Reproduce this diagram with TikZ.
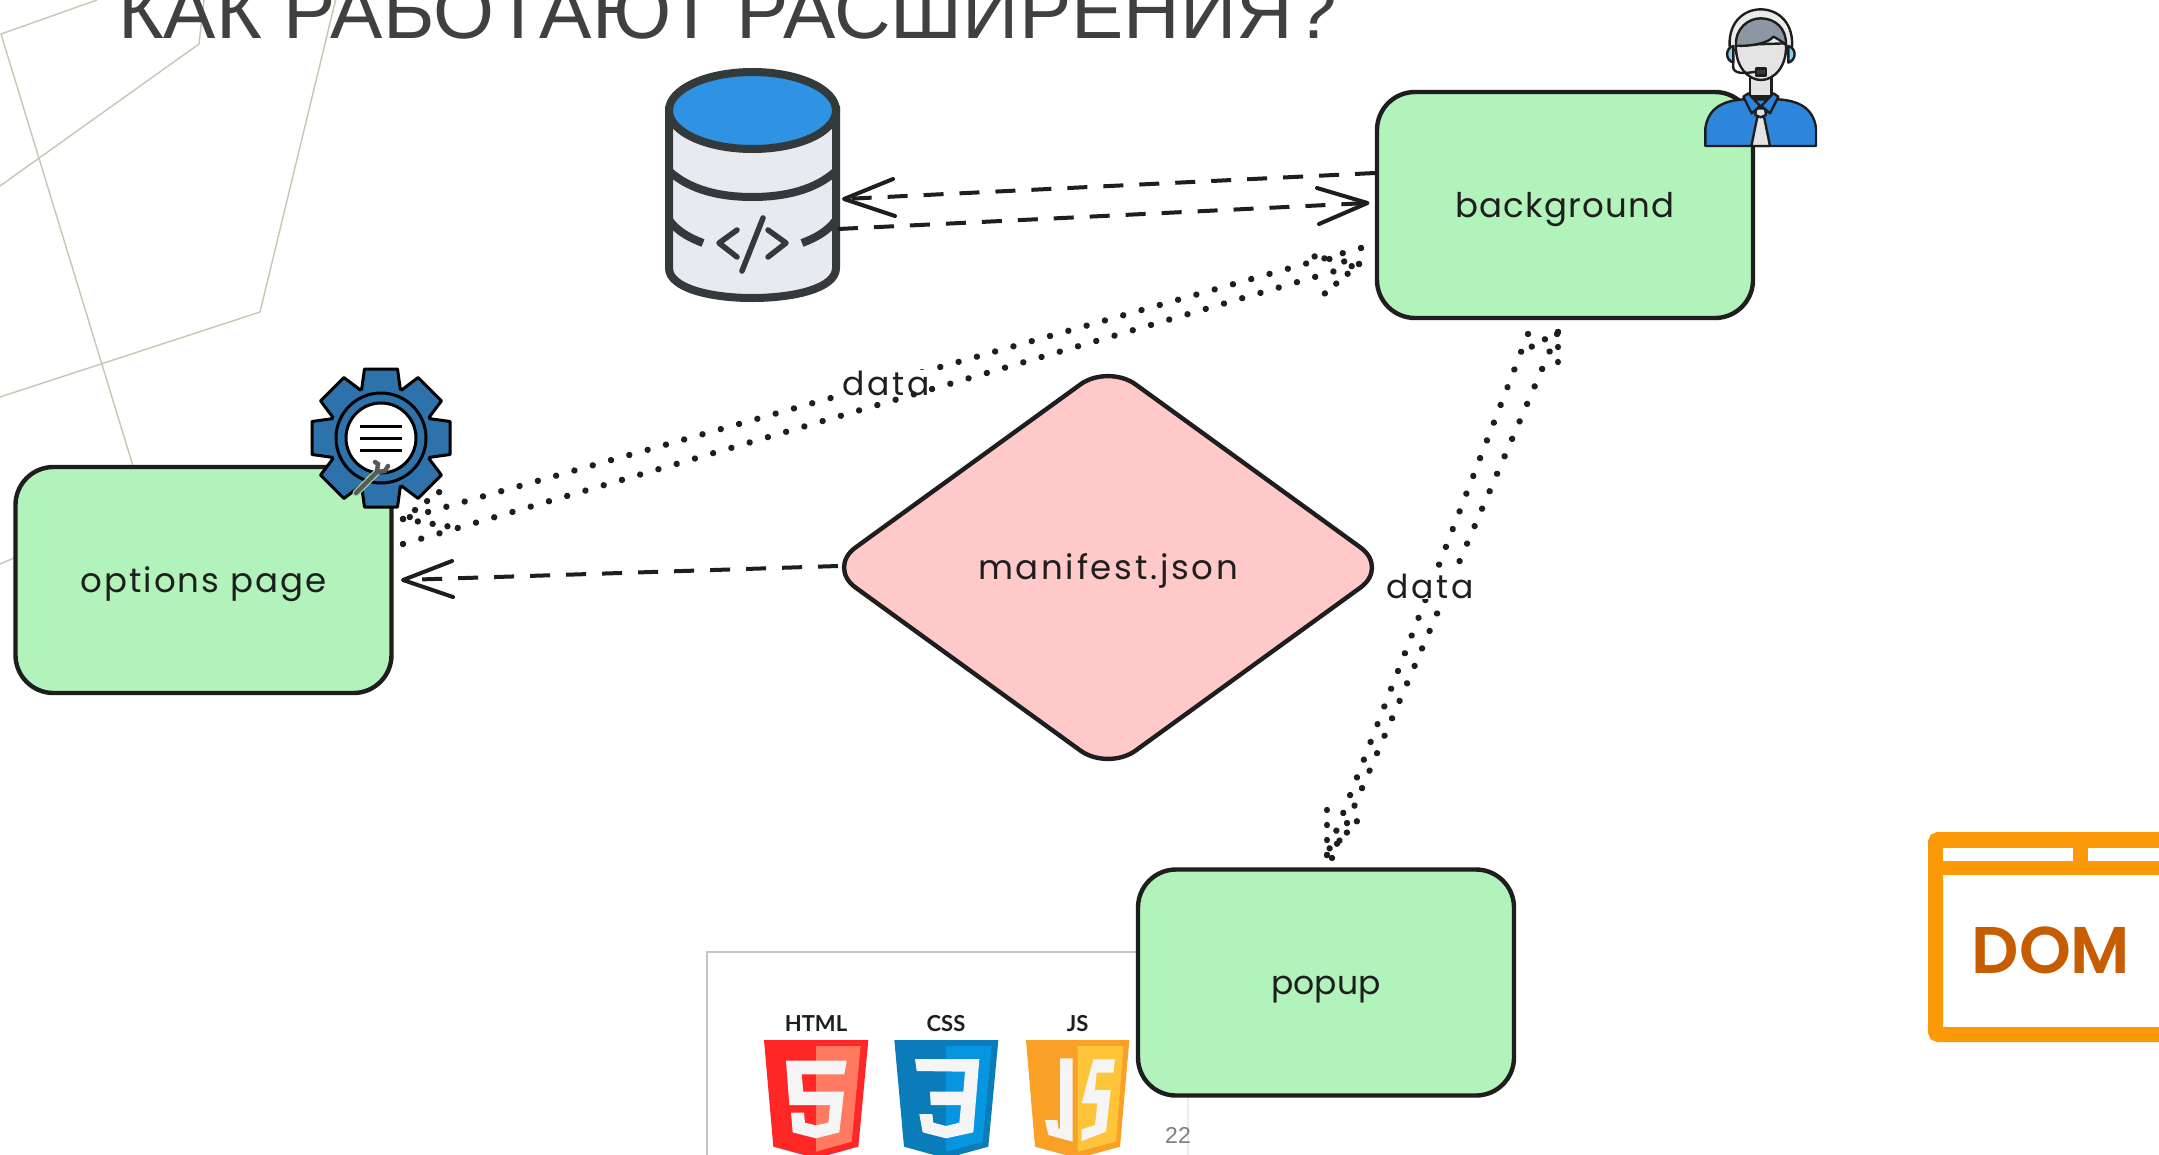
\documentclass[tikz,border=0pt]{standalone}
\usepackage{fontspec}
\setmainfont{Liberation Sans}
\newfontfamily\hand[LetterSpace=6]{Poppins}
\newfontfamily\handb[LetterSpace=3.5]{Poppins}
\newfontfamily\handc[LetterSpace=0.5]{Poppins}
\newfontfamily\handd[LetterSpace=8]{Poppins}
\newfontfamily\domfont{Poppins SemiBold}
\newfontfamily\logofont{Lato}
\usetikzlibrary{shapes.geometric,calc}
\definecolor{ink}{HTML}{1E1E1E}
\definecolor{boxgreen}{HTML}{B2F2BB}
\definecolor{boxpink}{HTML}{FFC9C9}
\definecolor{deco}{HTML}{C9C5B2}
\definecolor{titlegray}{HTML}{404040}
\definecolor{dbdark}{HTML}{34393C}
\definecolor{dbbody}{HTML}{E7EAEE}
\definecolor{dbblue}{HTML}{2F92E3}
\definecolor{gearblue}{HTML}{2E72AC}
\definecolor{agentblue}{HTML}{2E86DA}
\definecolor{agenthair}{HTML}{8D97A3}
\definecolor{agentskin}{HTML}{E4E4E4}
\definecolor{agentcup}{HTML}{7FD4EE}
\definecolor{orangeframe}{HTML}{FB9908}
\definecolor{domtext}{HTML}{C65D00}
\tikzset{
  procbox/.style={draw=ink,fill=boxgreen,line width=4.4pt,rounded corners=38pt,minimum width=376pt,minimum height=226pt,inner sep=0pt,text height=28pt,text depth=4pt,text=ink},
  dashline/.style={draw=ink,line width=4pt,dash pattern=on 20pt off 16pt},
  dotline/.style={draw=ink,line width=6.4pt,line cap=round,dash pattern=on 0.01pt off 19pt},
  dotbarb/.style={draw=ink,line width=6.4pt,line cap=round,dash pattern=on 0.01pt off 15pt},
  barb/.style={draw=ink,line width=4pt,line cap=round,line join=round},
  datalabel/.style={anchor=base,font=\handd\fontsize{33}{33}\selectfont,text=ink,fill=white,inner sep=1pt},
  zoomunits/.style={x=0.33333pt,y=-0.33333pt},
  decoline/.style={draw=deco,line width=1.4pt},
  lg/.style={font=\logofont\bfseries\fontsize{22}{22}\selectfont,text=ink,inner sep=0pt},
  whiteglyph/.style={fill=white!96!black},
}
\begin{document}
\begin{tikzpicture}[x=1pt,y=-1pt]
\useasboundingbox (0,0) rectangle (2159,1154);
\clip (0,0) rectangle (2159,1154);
\fill[white] (0,0) rectangle (2159,1154);
% decorative lines
\draw[decoline] (97,0) -- (1,34) -- (133,466);
\draw[decoline] (0,186) -- (199,44) -- (204,0);
\draw[decoline] (338,-10) -- (260,312) -- (0,397);
\draw[decoline] (0,564) -- (14,558);
% title
\node[anchor=base west,inner sep=0pt,text=titlegray,font=\fontsize{78.4}{78.4}\selectfont] (title) at (118,38) {КАК РАБОТАЮТ РАСШИРЕНИЯ?};
% picture frame with logos
\draw[draw=gray!45,line width=1.5pt] (707,1170) -- (707,952) -- (1188,952);
\draw[draw=gray!15,line width=1.5pt] (1188,952) -- (1188,1170);
\begin{scope}[shift={(700,940)},zoomunits]
  \fill[fill=red!85!white] (192,300) -- (505,300) -- (475,620) -- (348,655) -- (220,620) -- cycle;
  \fill[fill={rgb,255:red,255;green,122;blue,96}] (348,318) -- (482,318) -- (455,605) -- (348,635) -- cycle;
  \fill[whiteglyph] (258,362) -- (440,362) -- (433,403) -- (305,403) -- (310,455) -- (432,455) -- (418,577) -- (348,595) -- (278,577) -- (273,518) -- (312,518) -- (315,548) -- (348,556) -- (385,548) -- (390,495) -- (268,495) -- cycle;
  \fill[fill={rgb,255:red,10;green,124;blue,186}] (583,300) -- (895,300) -- (865,620) -- (738,655) -- (612,620) -- cycle;
  \fill[fill={rgb,255:red,6;green,150;blue,224}] (738,318) -- (875,318) -- (848,605) -- (738,635) -- cycle;
  \fill[whiteglyph] (645,357) -- (838,357) -- (820,577) -- (738,595) -- (668,577) -- (658,522) -- (697,522) -- (700,548) -- (738,558) -- (778,548) -- (783,495) -- (692,495) -- (690,455) -- (790,455) -- (795,395) -- (650,393) -- cycle;
  \fill[fill={rgb,255:red,251;green,160;blue,38}] (978,300) -- (1288,300) -- (1260,620) -- (1133,655) -- (1005,620) -- cycle;
  \fill[fill={rgb,255:red,255;green,197;blue,58}] (1133,318) -- (1270,318) -- (1248,605) -- (1133,635) -- cycle;
  \fill[whiteglyph] (1080,355) -- (1118,355) -- (1118,605) -- (1045,585) -- (1035,540) -- (1072,540) -- (1075,565) -- (1080,567) -- cycle;
  \fill[whiteglyph] (1180,358) -- (1245,358) -- (1240,398) -- (1190,398) -- (1185,450) -- (1232,450) -- (1218,575) -- (1145,603) -- (1145,568) -- (1185,555) -- (1192,490) -- (1145,490) -- cycle;
  \node[lg] (lhtml) at (348,250) {HTML};
  \node[lg] (lcss) at (738,250) {CSS};
  \node[lg] (ljs) at (1133,250) {JS};
\end{scope}
\node[inner sep=0pt,text=gray,font=\fontsize{23}{23}\selectfont] (pagenum) at (1178,1135) {22};
% DOM icon
\draw[orangeframe,line width=15pt,fill=white,rounded corners=3pt] (1935.5,839.5) rectangle (2190,1034.5);
\fill[orangeframe] (1928,847) rectangle (2170,875);
\fill[white] (1943,848) rectangle (2073,861);
\fill[white] (2088,848) rectangle (2170,861);
\node[inner sep=0pt,text=domtext,font=\domfont\fontsize{66}{66}\selectfont] (dom) at (2051,950) {DOM};
% database
\node[inner sep=0pt,minimum width=175pt,minimum height=244pt] (db) at (752.5,180) {};
\begin{scope}[line width=8pt,draw=dbdark]
  \filldraw[fill=dbbody,draw=dbdark] (669,110) -- (669,268) .. controls (669,288) and (710,298) .. (752,298) .. controls (795,298) and (836,288) .. (836,268) -- (836,110) -- cycle;
  \draw[draw=dbdark] (669,171) .. controls (690,190) and (720,197) .. (752,197) .. controls (785,197) and (815,190) .. (836,171);
  \draw[draw=dbdark] (669,220) .. controls (678,232) and (690,238) .. (703,243);
  \draw[draw=dbdark] (802,243) .. controls (815,238) and (827,232) .. (836,220);
  \filldraw[fill=dbblue,draw=dbdark] (752.5,110.5) ellipse [x radius=83.5pt,y radius=38.5pt];
  \draw[draw=dbdark,line width=5.5pt,line cap=round,line join=round] (737,230) -- (719,243) -- (737,257);
  \draw[draw=dbdark,line width=5.5pt,line cap=round,line join=round] (768,230) -- (786,243) -- (768,257);
  \draw[draw=dbdark,line width=5.5pt,line cap=round] (763,218) -- (742,271);
\end{scope}
% process boxes
\node[procbox,font=\handb\fontsize{34}{34}\selectfont] (bg) at (1565,205) {background};
\node[procbox,font=\hand\fontsize{34}{34}\selectfont] (opt) at (203.5,580) {options page};
\node[procbox,font=\handc\fontsize{33}{33}\selectfont] (pop) at (1326,982.5) {popup};
\node[draw=ink,fill=boxpink,line width=4.4pt,diamond,aspect=1.37,rounded corners=34pt,minimum width=562pt,minimum height=408pt,inner sep=0pt,text height=28pt,text depth=4pt,font=\handd\fontsize{34}{34}\selectfont,text=ink] (man) at (1108,567.5) {manifest.json};
% dashed connectors
\draw[dashline] ([shift={(-190,-32)}]bg.center) -- ([shift={(91.5,19)}]db.center);
\draw[barb] ([shift={(140.5,-1)}]db.center) -- ([shift={(91.5,19)}]db.center) -- ([shift={(142.5,36)}]db.center);
\draw[dashline] ([shift={(85.5,49)}]db.center) -- ([shift={(-197.5,-2)}]bg.center);
\draw[barb] ([shift={(-248,-17)}]bg.center) -- ([shift={(-197.5,-2)}]bg.center) -- ([shift={(-246,19)}]bg.center);
\draw[dashline] ([shift={(-270,-1.5)}]man.center) -- ([shift={(199.5,0)}]opt.center);
\draw[barb] ([shift={(248.5,-19)}]opt.center) -- ([shift={(199.5,0)}]opt.center) -- ([shift={(249.5,17)}]opt.center);
% dotted connector bg -> options (upper)
\draw[dotline] ([shift={(-204,43)}]bg.center) -- ([shift={(199.5,-61)}]opt.center);
\draw[dotbarb] ([shift={(199.5,-61)}]opt.center) -- ([shift={(238.5,-90)}]opt.center);
\draw[dotbarb] ([shift={(199.5,-61)}]opt.center) -- ([shift={(254.5,-52)}]opt.center);
\node[datalabel] (data1) at (886,395) {data};
% dotted connector options -> bg (lower)
\draw[dotline] ([shift={(199.5,-36)}]opt.center) -- ([shift={(-206,59)}]bg.center);
\draw[dotbarb] ([shift={(-206,59)}]bg.center) -- ([shift={(-253,51)}]bg.center);
\draw[dotbarb] ([shift={(-206,59)}]bg.center) -- ([shift={(-242,90)}]bg.center);
% dotted connectors bg <-> popup
\draw[dotline] ([shift={(-37,129)}]bg.center) -- ([shift={(1,-127.5)}]pop.center);
\draw[dotbarb] ([shift={(1,-127.5)}]pop.center) -- ([shift={(1,-174.5)}]pop.center);
\draw[dotbarb] ([shift={(1,-127.5)}]pop.center) -- ([shift={(32,-162.5)}]pop.center);
\draw[dotline] ([shift={(6,-124.5)}]pop.center) -- ([shift={(-7,127)}]bg.center);
\draw[dotbarb] ([shift={(-7,127)}]bg.center) -- ([shift={(-7,172)}]bg.center);
\draw[dotbarb] ([shift={(-7,127)}]bg.center) -- ([shift={(-43,147)}]bg.center);
\node[datalabel] (data2) at (1430,598) {data};
% gear icon
\begin{scope}[shift={(381,438)}]
  \filldraw[fill=gearblue,draw=black,line width=3pt] (0,0) circle [radius=53pt];
  \foreach \a in {0,45,...,315}{
    \filldraw[rotate=\a,fill=gearblue,draw=black,line width=3pt,line join=round] (-20,-44) -- (-16.5,-69) -- (16.5,-69) -- (20,-44) -- cycle;
  }
  \fill[gearblue] (0,0) circle [radius=51pt];
  \draw[black,line width=3pt] (0,0) circle [radius=45pt];
  \filldraw[fill=white,draw=black,line width=3pt] (0,0) circle [radius=35pt];
  \draw[black,line width=3pt] (-21,-12) -- (21,-12) (-21,0) -- (21,0) (-21,12) -- (21,12);
  \draw[boxgreen!80!gray,line width=7pt,line cap=round] (-25,55) -- (-4,34);
  \draw[gray!70!black,line width=4.5pt,line cap=round] (-25,55) -- (-4,34);
  \draw[gray!70!black,line width=4.5pt,line cap=round] (-4,34) -- (-3,26) -- (-6,24);
  \draw[gray!70!black,line width=4.5pt,line cap=round] (-4,34) -- (4,33) -- (7,28);
\end{scope}
% agent icon
\begin{scope}[shift={(1680,0)},zoomunits,line width=2.4pt,line join=round]
  \filldraw[fill=white!92!black,draw=ink] (150,150) .. controls (140,70) and (190,28) .. (242,28) .. controls (295,28) and (345,70) .. (335,150) -- cycle;
  \filldraw[fill=agentcup,draw=ink] (160,138) .. controls (135,145) and (135,180) .. (160,188) -- cycle;
  \filldraw[fill=agentcup,draw=ink] (325,138) .. controls (350,145) and (350,180) .. (325,188) -- cycle;
  \filldraw[fill=agentskin,draw=ink] (210,225) -- (210,290) -- (275,290) -- (275,225) -- cycle;
  \filldraw[fill=agentskin,draw=ink] (168,135) .. controls (165,200) and (205,240) .. (243,240) .. controls (282,240) and (322,200) .. (318,130) -- cycle;
  \filldraw[fill=agenthair,draw=ink] (168,137) .. controls (165,85) and (205,55) .. (242,55) .. controls (285,55) and (320,85) .. (318,135) .. controls (300,120) and (290,115) .. (280,110) .. controls (265,130) and (210,140) .. (168,137) -- cycle;
  \draw[ink] (160,190) .. controls (155,215) and (170,225) .. (228,215);
  \filldraw[fill=dbdark,draw=ink] (228,205) rectangle (258,227);
  \filldraw[fill=agentblue,draw=ink] (76,438) -- (76,385) .. controls (85,320) and (135,302) .. (190,298) -- (295,298) .. controls (350,302) and (400,320) .. (408,385) -- (408,438) -- cycle;
  \filldraw[fill=agentskin,draw=ink] (232,350) -- (214,438) -- (270,438) -- (252,350) -- cycle;
  \filldraw[fill=agentskin,draw=ink] (228,325) -- (255,325) -- (258,345) -- (242,352) -- (226,345) -- cycle;
  \filldraw[fill=agentblue,draw=ink] (190,290) -- (205,280) -- (240,318) -- (215,340) -- cycle;
  \filldraw[fill=agentblue,draw=ink] (295,290) -- (280,280) -- (244,318) -- (270,340) -- cycle;
\end{scope}
\end{tikzpicture}
\end{document}
